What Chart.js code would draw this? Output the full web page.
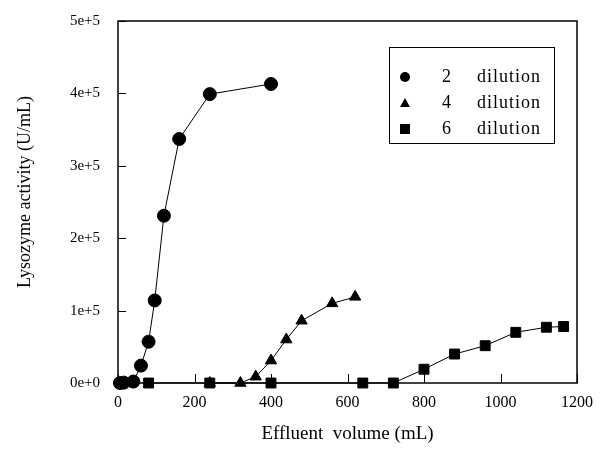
<!DOCTYPE html>
<html>
<head>
<meta charset="utf-8">
<script src="https://cdn.jsdelivr.net/npm/chart.js@4/dist/chart.umd.min.js"></script>
<style>
  html, body { margin: 0; padding: 0; background: #fff; }
  #wrap { position: relative; width: 604px; height: 470px; }
</style>
</head>
<body>
<div id="wrap"><canvas id="c"></canvas></div>
<script>
// данные
const dilution2X = [5, 15, 40, 60, 80, 96, 120, 160, 240, 400];
const dilution2Y = [0, 500, 2000, 24000, 57000, 114000, 231000, 337000, 399000, 413000];

const dilution4X = [240, 320, 360, 400, 440, 480, 560, 620];
const dilution4Y = [0, 0, 8700, 31000, 60000, 86000, 110000, 119000];

const dilution6X = [80, 240, 400, 640, 720, 800, 880, 960, 1040, 1120, 1165];
const dilution6Y = [0, 0, 0, 0, 0, 19000, 40000, 51500, 70000, 77000, 78000];

const seriesLabels = ['2', '4', '6'];
const xTicks = [0, 200, 400, 600, 800, 1000, 1200];
const yTicks = [0, 100000, 200000, 300000, 400000, 500000];
const yTitle = 'Lysozyme activity (U/mL)';

const FONT = '"Liberation Serif", "DejaVu Serif", serif';

function toPoints(xs, ys) {
    return xs.map((x, i) => ({ x: x, y: ys[i] }));
}

// рамка, внутренние засечки и подпись оси Y
const framePlugin = {
    id: 'frame',
    afterDraw(chart) {
        const ctx = chart.ctx;
        const a = chart.chartArea;
        const xs = chart.scales.x;
        const ys = chart.scales.y;
        ctx.save();
        ctx.strokeStyle = '#000';
        ctx.lineWidth = 1.5;
        ctx.strokeRect(a.left, a.top, a.right - a.left, a.bottom - a.top);
        ctx.lineWidth = 1;
        ctx.beginPath();
        xTicks.forEach(v => {
            const px = Math.round(xs.getPixelForValue(v)) + 0.5;
            ctx.moveTo(px, a.bottom);
            ctx.lineTo(px, a.bottom - 9);
        });
        yTicks.forEach(v => {
            const py = Math.round(ys.getPixelForValue(v)) + 0.5;
            ctx.moveTo(a.left, py);
            ctx.lineTo(a.left + 8, py);
        });
        ctx.stroke();

        ctx.translate(25, 192);
        ctx.rotate(-Math.PI / 2);
        ctx.fillStyle = '#000';
        ctx.font = '18px ' + FONT;
        ctx.textAlign = 'center';
        ctx.textBaseline = 'middle';
        ctx.fillText(yTitle, 0, 0);
        ctx.restore();
    }
};

// легенда внутри области графика
const legendBoxPlugin = {
    id: 'legendBox',
    afterDraw(chart) {
        const ctx = chart.ctx;
        const left = 389, top = 47, right = 554, bottom = 143;
        ctx.save();
        ctx.fillStyle = '#fff';
        ctx.fillRect(left, top, right - left, bottom - top);
        ctx.strokeStyle = '#000';
        ctx.lineWidth = 1;
        ctx.strokeRect(left + 0.5, top + 0.5, right - left, bottom - top);
        const rows = [77, 103, 129];
        ctx.font = '18px ' + FONT;
        ctx.letterSpacing = '1px';
        ctx.textBaseline = 'middle';
        chart.data.datasets.forEach((ds, i) => {
            const y = rows[i];
            ctx.fillStyle = '#000';
            ctx.beginPath();
            if (ds.pointStyle === 'circle') {
                ctx.arc(405, y, 5, 0, Math.PI * 2);
            } else if (ds.pointStyle === 'triangle') {
                ctx.moveTo(405, y - 5);
                ctx.lineTo(410, y + 4);
                ctx.lineTo(400, y + 4);
                ctx.closePath();
            } else {
                ctx.rect(400, y - 5, 10, 10);
            }
            ctx.fill();
            ctx.textAlign = 'center';
            ctx.fillText(ds.label, 447, y);
            ctx.textAlign = 'left';
            ctx.fillText('dilution', 477, y);
        });
        ctx.restore();
    }
};

function makeDataset(label, xs, ys, style, radius) {
    return {
        label: label,
        data: toPoints(xs, ys),
        borderColor: '#000',
        backgroundColor: '#000',
        borderWidth: 1,
        pointStyle: style,
        pointRadius: radius,
        pointHoverRadius: radius,
        pointBackgroundColor: '#000',
        pointBorderColor: '#000',
        clip: false,
        tension: 0
    };
}

new Chart(document.getElementById('c'), {
    type: 'line',
    data: {
        datasets: [
            makeDataset(seriesLabels[0], dilution2X, dilution2Y, 'circle', 6.5),
            makeDataset(seriesLabels[1], dilution4X, dilution4Y, 'triangle', 6.5),
            makeDataset(seriesLabels[2], dilution6X, dilution6Y, 'rect', 7)
        ]
    },
    options: {
        responsive: true,
        maintainAspectRatio: false,
        animation: false,
        layout: { padding: { top: 21, right: 27, left: 0, bottom: 0 } },
        plugins: {
            legend: { display: false },
            tooltip: { enabled: false }
        },
        scales: {
            x: {
                type: 'linear',
                min: 0,
                max: 1200,
                afterBuildTicks(scale) {
                    scale.ticks = xTicks.map(v => ({ value: v }));
                },
                afterFit(scale) { scale.height = 87; },
                grid: { display: false, drawTicks: false },
                border: { display: false },
                ticks: {
                    color: '#000',
                    padding: 10,
                    font: { family: FONT, size: 16 },
                    callback: v => String(v)
                },
                title: {
                    display: true,
                    text: 'Effluent  volume (mL)',
                    color: '#000',
                    font: { family: FONT, size: 19 },
                    padding: { top: 0, bottom: 25 }
                }
            },
            y: {
                type: 'linear',
                min: 0,
                max: 500000,
                afterBuildTicks(scale) {
                    scale.ticks = yTicks.map(v => ({ value: v }));
                },
                afterFit(scale) {
                    scale.width = 118;
                    scale.paddingTop = 0;
                    scale.paddingBottom = 0;
                },
                grid: { display: false, drawTicks: false },
                border: { display: false },
                ticks: {
                    color: '#000',
                    padding: 18,
                    font: { family: FONT, size: 15 },
                    callback: v => (v / 100000) + 'e+' + (v === 0 ? '0' : '5')
                }
            }
        }
    },
    plugins: [framePlugin, legendBoxPlugin]
});
</script>
</body>
</html>
